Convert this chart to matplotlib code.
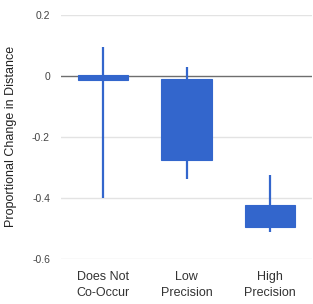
import matplotlib.pyplot as plt

plt.rcParams['font.family'] = ['Liberation Sans', 'DejaVu Sans']

categories = ['Does Not\nCo-Occur', 'Low\nPrecision', 'High\nPrecision']
box_top = [0.003, -0.010, -0.425]
box_bottom = [-0.013, -0.278, -0.496]
whisker_high = [0.093, 0.030, -0.324]
whisker_low = [-0.400, -0.339, -0.511]

blue = '#3366cc'

fig = plt.figure(figsize=(3.13, 3.04), dpi=100)
ax = fig.add_axes([0.195, 0.149, 0.802, 0.8026])

x = list(range(len(categories)))

# grid lines
for v in [0.2, -0.2, -0.4, -0.6]:
    ax.axhline(v, color='#e3e3e3', lw=1, zorder=0)
ax.axhline(0, color='#6e6e6e', lw=1, zorder=1)

# whiskers
ax.vlines(x, whisker_low, whisker_high, color=blue, lw=1.6, zorder=2)

# boxes
heights = [t - b for t, b in zip(box_top, box_bottom)]
ax.bar(x, heights, bottom=box_bottom, width=0.6, color=blue,
       edgecolor=blue, lw=0.8, zorder=3)

ax.set_xlim(-0.5, 2.5)
ax.set_ylim(-0.6, 0.2)
ax.set_yticks([0.2, 0, -0.2, -0.4, -0.6])
ax.set_yticklabels(['0.2', '0', '-0.2', '-0.4', '-0.6'])
ax.set_xticks(x)
ax.set_xticklabels(categories, fontsize=9, color='#333333', linespacing=1.4)
ax.tick_params(axis='y', length=0, pad=8, labelsize=7.5, labelcolor='#444444')
ax.tick_params(axis='x', length=0, pad=9)
ax.set_ylabel('Proportional Change in Distance', fontsize=9, color='#222222', labelpad=11)

for s in ax.spines.values():
    s.set_visible(False)

fig.savefig('out.png', dpi=100)
